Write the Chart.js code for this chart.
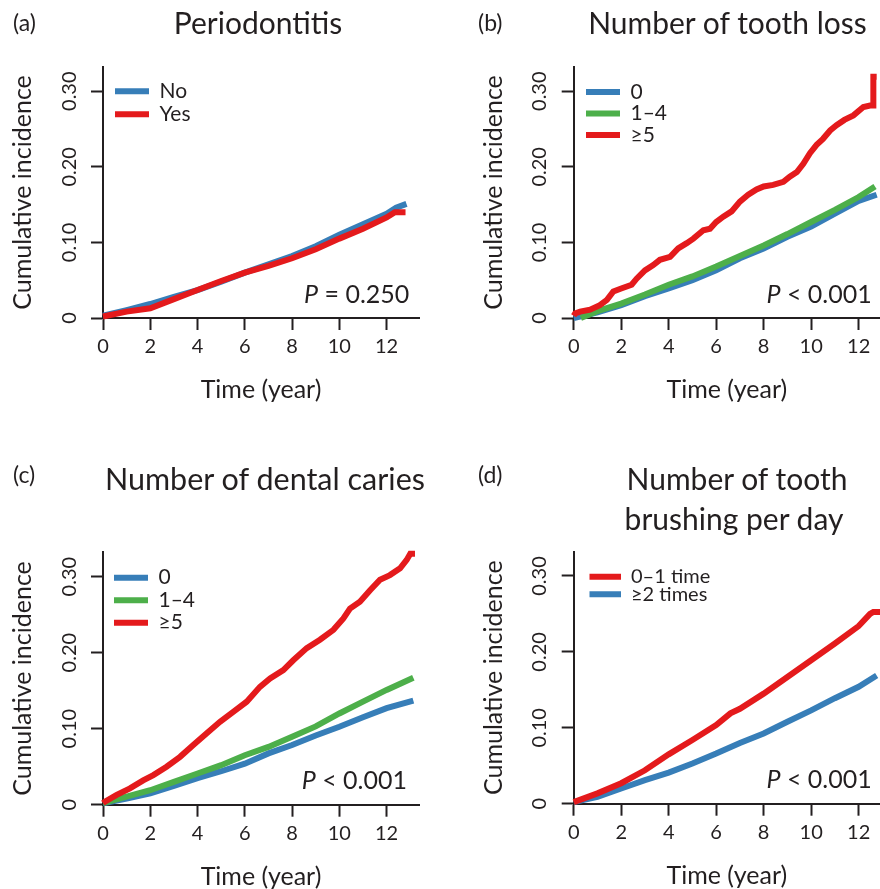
<!DOCTYPE html>
<html><head><meta charset="utf-8">
<script src="https://cdn.jsdelivr.net/npm/chart.js@4.4.1/dist/chart.umd.min.js"></script>
<style>
html,body{margin:0;padding:0;background:#fff;overflow:hidden;}
#page{position:relative;width:880px;height:889px;overflow:hidden;font-family:Lato,sans-serif;color:#231f20;}
canvas{position:absolute;}
.t{position:absolute;white-space:nowrap;line-height:1;}
.c{transform:translateX(-50%);}
</style></head><body>
<div id="page">
<canvas id="ca" width="440" height="470" style="left:0;top:0"></canvas>
<canvas id="cb" width="440" height="470" style="left:440px;top:0"></canvas>
<canvas id="cc" width="440" height="470" style="left:0;top:440px"></canvas>
<canvas id="cd" width="440" height="470" style="left:440px;top:440px"></canvas>

<div class="t" style="left:13px;top:11.3px;font-size:23px">(a)</div>
<div class="t" style="left:478px;top:11.3px;font-size:23px">(b)</div>
<div class="t" style="left:13px;top:462.9px;font-size:23px">(c)</div>
<div class="t" style="left:478px;top:462.9px;font-size:23px">(d)</div>

<div class="t c" style="left:258px;top:6.7px;font-size:30px">Periodontitis</div>
<div class="t c" style="left:727.5px;top:6.7px;font-size:30px">Number of tooth loss</div>
<div class="t c" style="left:265px;top:463.4px;font-size:30.5px">Number of dental caries</div>
<div class="t c" style="left:737px;top:463.4px;font-size:30px">Number of tooth</div>
<div class="t c" style="left:734px;top:503.4px;font-size:30px">brushing per day</div>

<div class="t" style="right:470.7px;top:281.1px;font-size:25px"><i>P</i> = 0.250</div>
<div class="t" style="right:8.3px;top:280.8px;font-size:25px"><i>P</i> &lt; 0.001</div>
<div class="t" style="right:473px;top:767.1px;font-size:25px"><i>P</i> &lt; 0.001</div>
<div class="t" style="right:8.3px;top:765.5px;font-size:25px"><i>P</i> &lt; 0.001</div>
</div>
<script>
// ---- tick labels ----
const xTicks = [0, 2, 4, 6, 8, 10, 12];
const yTicks = [0, 0.1, 0.2, 0.3];
const yTickLabels = ['0', '0.10', '0.20', '0.30'];
const xTitle = 'Time (year)';
const yTitle = 'Cumulative incidence';

// ---- (a) Periodontitis ----
const perioNoTime  = [0, 1, 2, 3, 4, 5, 6, 7, 8, 9, 10, 11, 12, 12.4, 12.84];
const perioNo      = [0.003, 0.0105, 0.0185, 0.028, 0.037, 0.048, 0.060, 0.071, 0.082, 0.095, 0.110, 0.124, 0.138, 0.146, 0.151];
const perioYesTime = [0, 1, 2, 3, 4, 5, 6, 7, 8, 9, 10, 11, 12, 12.35, 12.8];
const perioYes     = [0.002, 0.0084, 0.0128, 0.025, 0.037, 0.049, 0.060, 0.069, 0.079, 0.091, 0.105, 0.118, 0.133, 0.140, 0.140];

// ---- (b) Number of tooth loss ----
const lossTime   = [0, 1, 2, 3, 4, 5, 6, 7, 8, 9, 10, 11, 12, 12.76];
const loss0      = [0, 0.0075, 0.017, 0.029, 0.039, 0.050, 0.063, 0.079, 0.092, 0.1075, 0.121, 0.138, 0.155, 0.163];
const loss14Time = [0.3, 1, 2, 3, 4, 5, 6, 7, 8, 9, 10, 11, 12, 12.69];
const loss14     = [0, 0.009, 0.019, 0.031, 0.044, 0.055, 0.068, 0.082, 0.096, 0.111, 0.127, 0.143, 0.160, 0.174];
const loss5Time  = [0, 0.06, 0.27, 0.69, 1.1, 1.4, 1.67, 2.0, 2.44, 2.65, 3.0, 3.35, 3.63, 4.06, 4.4, 4.76, 5.04, 5.46, 5.74, 6.0, 6.3, 6.65, 7.0, 7.35, 7.7, 8.0, 8.4, 8.83, 9.1, 9.4, 9.67, 9.95, 10.23, 10.5, 10.8, 11.07, 11.4, 11.78, 12.2, 12.48, 12.62, 12.62, 12.76];
const loss5      = [0.003, 0.006, 0.0084, 0.011, 0.017, 0.024, 0.035, 0.039, 0.044, 0.052, 0.063, 0.070, 0.077, 0.081, 0.092, 0.099, 0.105, 0.116, 0.118, 0.127, 0.134, 0.141, 0.154, 0.163, 0.170, 0.174, 0.176, 0.180, 0.187, 0.193, 0.204, 0.218, 0.229, 0.237, 0.248, 0.255, 0.262, 0.268, 0.279, 0.281, 0.281, 0.319, 0.319];

// ---- (c) Number of dental caries ----
const cariesTime = [0, 1, 2, 3, 4, 5, 6, 7, 8, 9, 10, 11, 12, 13.13];
const caries0    = [0.002, 0.008, 0.015, 0.0246, 0.035, 0.044, 0.054, 0.0675, 0.0785, 0.091, 0.1026, 0.115, 0.127, 0.137];
const caries14   = [0.002, 0.0105, 0.019, 0.030, 0.041, 0.052, 0.065, 0.076, 0.0895, 0.103, 0.120, 0.1355, 0.151, 0.167];
const caries5Time = [0, 0.08, 0.58, 1.14, 1.7, 2.13, 2.69, 3.26, 3.82, 4.39, 4.95, 5.51, 6.08, 6.64, 7.07, 7.63, 8.05, 8.62, 9.18, 9.75, 10.17, 10.45, 10.87, 11.3, 11.72, 12.14, 12.57, 12.85, 13.0, 13.2];
const caries5     = [0.002, 0.004, 0.013, 0.0215, 0.032, 0.039, 0.050, 0.063, 0.0785, 0.094, 0.109, 0.122, 0.1355, 0.155, 0.166, 0.177, 0.190, 0.206, 0.217, 0.230, 0.245, 0.258, 0.267, 0.282, 0.296, 0.302, 0.311, 0.322, 0.330, 0.330];

// ---- (d) Number of tooth brushing per day ----
const brush01Time = [0, 1, 2, 3, 4, 5, 6, 6.6, 7, 8, 9, 10, 11, 12, 12.48, 12.62, 12.9];
const brush01     = [0.002, 0.0136, 0.027, 0.044, 0.065, 0.084, 0.1035, 0.119, 0.125, 0.145, 0.167, 0.189, 0.211, 0.234, 0.250, 0.2526, 0.2526];
const brush2Time  = [0, 1, 2, 3, 4, 5, 6, 7, 8, 9, 10, 11, 12, 12.76];
const brush2      = [0.002, 0.009, 0.020, 0.031, 0.041, 0.053, 0.066, 0.080, 0.0925, 0.108, 0.123, 0.139, 0.154, 0.169];

const INK = '#231f20';
const BLUE = '#377eb8', RED = '#e41a1c', GREEN = '#4daf4a';
const yMax = 0.332;

function pts(xs, ys) { return xs.map((x, i) => ({ x: x, y: ys[i] })); }

function ds(label, xs, ys, color, order) {
  return { label, data: pts(xs, ys), borderColor: color, backgroundColor: color,
           borderWidth: 6, pointRadius: 0, tension: 0, fill: false, order, clip: false };
}

const legendPlacer = {
  id: 'legendPlacer',
  afterLayout(chart, args, opts) {
    const lg = chart.legend; if (!lg) return;
    const lab = chart.options.plugins.legend.labels;
    lg.left = opts.boxLeft - lab.padding;
    lg.top = opts.rowCenter - lab.font.size / 2 - lab.padding;
    lg.right = chart.chartArea.right;
    lg.bottom = chart.chartArea.bottom;
    lg.width = lg.right - lg.left;
    lg.height = lg.bottom - lg.top;
  }
};

function axisCommon() {
  return {
    grid: { drawOnChartArea: false, drawTicks: true, tickLength: 12, tickWidth: 2, tickColor: INK },
    border: { display: true, width: 2, color: INK }
  };
}

function makeChart(id, datasets, xmax, padding, leg) {
  const gen = Chart.defaults.plugins.legend.labels.generateLabels;
  return new Chart(document.getElementById(id), {
    type: 'line',
    data: { datasets },
    plugins: [legendPlacer],
    options: {
      responsive: false, animation: false, events: [],
      layout: { padding, autoPadding: false },
      plugins: {
        tooltip: { enabled: false },
        title: { display: false },
        legend: {
          position: 'chartArea', align: 'start',
          labels: {
            boxWidth: 34, boxHeight: 6, padding: leg.pad, color: INK,
            font: { size: leg.fs, family: 'Lato' },
            sort: (a, b) => a.datasetIndex - b.datasetIndex,
            generateLabels: (c) => gen(c).map(l => Object.assign(l, { lineWidth: 0, fillStyle: l.strokeStyle }))
          }
        },
        legendPlacer: { boxLeft: leg.boxLeft, rowCenter: leg.rowCenter }
      },
      scales: {
        x: Object.assign(axisCommon(), {
          type: 'linear', min: 0, max: xmax, bounds: 'data',
          afterBuildTicks: s => { s.ticks = xTicks.map(v => ({ value: v })); },
          afterFit: s => { s.height = 100; },
          ticks: { font: { size: 20 }, color: INK, padding: 5, maxRotation: 0, autoSkip: false, callback: v => String(v) },
          title: { display: true, text: xTitle, color: INK, font: { size: 25 }, padding: { top: 0, bottom: 13 } }
        }),
        y: Object.assign(axisCommon(), {
          type: 'linear', min: 0, max: yMax, bounds: 'data',
          afterBuildTicks: s => { s.ticks = yTicks.map(v => ({ value: v })); },
          afterFit: s => { s.width = 103; },
          ticks: { font: { size: 20 }, color: INK, padding: 2, minRotation: 90, maxRotation: 90, crossAlign: 'center', autoSkip: false,
                   callback: (v, i) => yTickLabels[i] },
          title: { display: true, text: yTitle, color: INK, font: { size: 25 }, padding: { top: 8, bottom: 0 } }
        })
      }
    }
  });
}

function drawAll() {
  Chart.defaults.font.family = 'Lato';
  Chart.defaults.color = INK;

  makeChart('ca', [
    ds('No', perioNoTime, perioNo, BLUE, 1),
    ds('Yes', perioYesTime, perioYes, RED, 0)
  ], 13.37, { left: 0, top: 67, right: 21, bottom: 52 },
  { boxLeft: 115, rowCenter: 91.3, fs: 21, pad: 2 });

  makeChart('cb', [
    ds('0', lossTime, loss0, BLUE, 2),
    ds('1\u20134', loss14Time, loss14, GREEN, 1),
    ds('\u22655', loss5Time, loss5, RED, 0)
  ], 12.9, { left: 30.7, top: 67, right: 0, bottom: 52 },
  { boxLeft: 146, rowCenter: 92, fs: 21, pad: 0.5 });

  makeChart('cc', [
    ds('0', cariesTime, caries0, BLUE, 2),
    ds('1\u20134', cariesTime, caries14, GREEN, 1),
    ds('\u22655', caries5Time, caries5, RED, 0)
  ], 13.37, { left: 0, top: 112.3, right: 21, bottom: 5.3 },
  { boxLeft: 114, rowCenter: 137.7, fs: 21, pad: 1.5 });

  makeChart('cd', [
    ds('0\u20131 time', brush01Time, brush01, RED, 0),
    ds('\u22652 times', brush2Time, brush2, BLUE, 1)
  ], 12.9, { left: 30.7, top: 111.7, right: 0, bottom: 6.3 },
  { boxLeft: 147, rowCenter: 136.7, fs: 20, pad: -2.5 });
}

if (document.fonts && document.fonts.load) {
  Promise.all([document.fonts.load('20px Lato'), document.fonts.load('italic 25px Lato')])
    .then(drawAll, drawAll);
} else { drawAll(); }
</script>
</body></html>
